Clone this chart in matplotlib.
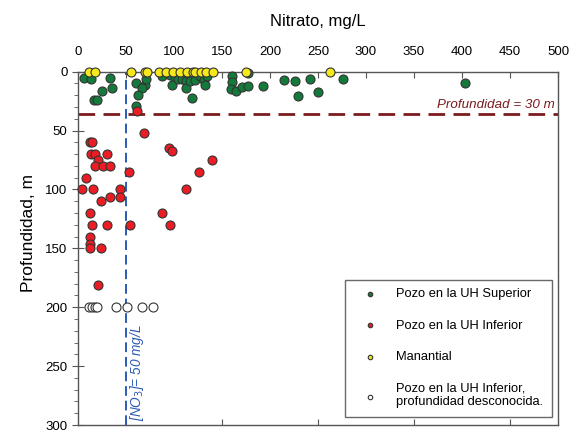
import matplotlib
matplotlib.use("Agg")
import matplotlib.pyplot as plt
from matplotlib.ticker import MultipleLocator

plt.rcParams['font.family'] = ['Liberation Sans', 'DejaVu Sans']

# ---- data ----
sup_x = [6, 14, 33, 35, 25, 17, 20, 60, 70, 71, 67, 62, 60, 87, 96, 101, 98, 104, 108, 112, 113,
         117, 122, 127, 131, 132, 134, 119, 160, 160, 159, 165, 171, 177, 177, 193, 215, 226, 242,
         276, 229, 250, 403]
sup_d = [5, 6, 5, 14, 16, 24, 24, 10, 11, 6, 14, 20, 29, 4, 3, 5, 11, 6, 6, 8, 14,
         8, 7, 4, 7, 11, 4, 22, 4, 9, 15, 16, 13, 12, 1, 12, 7, 8, 6,
         6, 21, 17, 10]

inf_x = [61, 69, 12, 15, 14, 18, 30, 21, 18, 26, 33, 95, 98, 140, 53, 126, 8, 4.5, 16, 44, 112,
         24, 33, 44, 12, 87.5, 15, 30, 54, 96, 13, 12.5, 12, 24, 21]
inf_d = [33, 52, 60, 60, 70, 70, 70, 75, 80, 80, 80, 65, 67, 75, 85, 85, 90, 100, 100, 100, 100,
         110, 106, 106, 120, 120, 130, 130, 130, 130, 140, 146, 150, 150, 181]

man_x = [11, 18, 55, 70, 72, 84, 92, 99, 106, 114, 120, 122, 128, 133, 141, 175, 262]
man_d = [0] * len(man_x)

unk_x = [11, 15, 18, 20, 40, 51, 67, 78]
unk_d = [200] * len(unk_x)

nitrate_limit = 50
depth_limit = 36

labels = ["Pozo en la UH Superior", "Pozo en la UH Inferior", "Manantial",
          "Pozo en la UH Inferior,\nprofundidad desconocida."]

# ---- figure ----
fig = plt.figure(figsize=(5.71, 4.30), dpi=100)
ax = fig.add_axes([78/571, 1-425/430, 480/571, (425-71.7)/430])

ax.set_xlim(0, 500)
ax.set_ylim(300, 0)

ec = '#333333'
s = 42
ax.axhline(depth_limit, color='#7A1B1E', lw=2, dashes=(6, 3), zorder=1)
ax.axvline(nitrate_limit, color='#2B5BB5', lw=1.4, dashes=(5, 2.5), zorder=1)

kw = dict(s=s, edgecolors=ec, linewidths=0.8, clip_on=False)
ax.scatter(sup_x, sup_d, c='#137A3C', zorder=3, label=labels[0], **kw)
ax.scatter(inf_x, inf_d, c='#EC1C24', zorder=3, label=labels[1], **kw)
ax.scatter(man_x, man_d, c='#F5E81C', zorder=4, label=labels[2], **kw)
ax.scatter(unk_x, unk_d, c='white', zorder=3, label=labels[3], **kw)

# axes styling
for sp in ax.spines.values():
    sp.set_color('#555555')
    sp.set_linewidth(1.0)

ax.xaxis.set_ticks_position('top')
ax.xaxis.set_label_position('top')
ax.set_xticks(range(0, 501, 50))
ax.tick_params(axis='x', which='major', direction='in', length=4, labelsize=9.5,
               top=True, bottom=False, pad=10, color='#555555')
ax.set_yticks(range(0, 301, 50))
ax.yaxis.set_minor_locator(MultipleLocator(10))
ax.tick_params(axis='y', which='major', direction='inout', length=8, labelsize=9.5, color='#555555')
ax.tick_params(axis='y', which='minor', direction='out', length=3, color='#555555')

# bottom ticks (no labels)
sec = ax.secondary_xaxis('bottom')
sec.set_xticks([50, 150, 250, 350, 450])
sec.tick_params(direction='in', length=4, labelbottom=False, color='#555555')
sec.spines['bottom'].set_visible(False)

ax.set_xlabel("Nitrato, mg/L", fontsize=12, labelpad=14)
ax.set_ylabel("Profundidad, m", fontsize=12.5)
ax.yaxis.set_label_coords(-0.087, 0.543)

ax.text(497, depth_limit - 2.5, "Profundidad = 30 m", color='#7A1B1E', fontstyle='italic',
        fontsize=9.6, ha='right', va='bottom')
ax.text(nitrate_limit + 2.0, 297, "[NO$_3$]= 50 mg/L", color='#2B5BB5', fontstyle='italic',
        fontsize=9.8, rotation=90, ha='left', va='bottom')

leg = ax.legend(loc='lower right', bbox_to_anchor=(0.9875, 0.023), fontsize=9.3,
                frameon=True, fancybox=False, edgecolor='#444444', markerscale=0.5,
                labelspacing=1.5, borderpad=0.65, handlelength=2.5, handletextpad=0.8,
                borderaxespad=0)
leg.get_frame().set_linewidth(1.0)

fig.savefig("out.png", dpi=100)
